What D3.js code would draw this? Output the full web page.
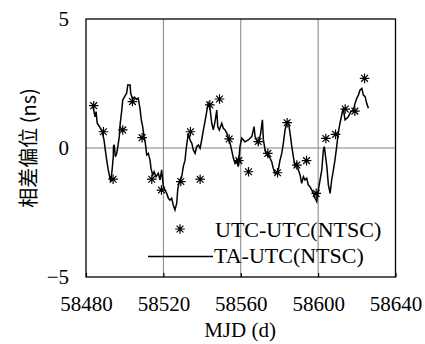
<!DOCTYPE html>
<html><head><meta charset="utf-8">
<script src="https://cdn.jsdelivr.net/npm/d3@7"></script>
<style>body{margin:0;background:#fff}svg{display:block}.sf{font-family:"Liberation Serif","DejaVu Serif",serif}</style>
</head><body>
<svg id="c" width="425" height="344"></svg>
<script>
// UTC-UTC(NTSC) (Circular T, 5-day)
const utcDays = [58484,58489,58494,58499,58504,58509,58514,58519,58529,58534,58539,58544,58549,58554,58559,58564,58569,58574,58579,58584,58589,58594,58599,58604,58609,58614,58619,58624];
const utcVals = [1.64,0.63,-1.21,0.70,1.80,0.40,-1.21,-1.63,-1.30,0.63,-1.21,1.67,1.90,0.35,-0.49,-0.92,0.25,-0.21,-0.96,0.98,-0.66,-0.49,-1.76,0.37,0.53,1.51,1.43,2.70];
// TA-UTC(NTSC)
const taDays = [58483.5,58484.7,58485.2,58485.8,58487.2,58488.4,58489.3,58490.0,58490.7,58491.5,58492.4,58492.8,58493.4,58493.8,58494.1,58494.2,58494.6,58495.2,58495.9,58496.7,58497.2,58497.7,58498.5,58499.0,58499.8,58501.0,58501.6,58502.8,58503.1,58504.1,58505.0,58506.2,58507.0,58507.9,58508.6,58509.3,58510.0,58510.7,58511.4,58512.2,58513.1,58513.6,58514.5,58515.2,58516.2,58517.4,58518.3,58519.1,58520.0,58520.8,58521.7,58522.6,58523.4,58524.3,58525.1,58526.0,58526.9,58527.4,58528.1,58529.5,58530.3,58531.2,58531.7,58532.4,58532.9,58533.8,58534.7,58535.5,58536.4,58537.2,58538.1,58539.0,58539.8,58540.7,58541.5,58542.4,58543.2,58544.1,58545.0,58545.8,58546.7,58547.6,58548.1,58548.9,58550.2,58551.0,58551.9,58552.8,58553.6,58554.5,58555.3,58556.2,58557.0,58557.9,58558.7,58559.6,58560.5,58562.2,58563.9,58565.7,58566.9,58567.4,58568.3,58569.1,58570.3,58571.2,58571.7,58572.6,58573.4,58574.8,58576.0,58576.8,58577.7,58578.6,58579.4,58580.3,58581.2,58582.0,58582.9,58583.8,58584.6,58585.5,58586.4,58587.2,58588.1,58588.9,58589.8,58590.7,58591.5,58592.4,58593.2,58594.1,58594.9,58595.8,58596.7,58597.5,58598.4,58599.3,58600.1,58601.0,58601.9,58602.7,58603.2,58604.5,58605.3,58606.2,58607.0,58607.9,58608.7,58609.6,58610.5,58611.3,58612.2,58613.0,58613.9,58614.8,58615.6,58616.9,58618.2,58619.1,58620.0,58620.8,58621.7,58622.6,58623.4,58624.3,58625.1,58626.0];
const taVals = [1.64,1.21,1.41,0.96,0.80,0.63,0.31,-0.08,-0.47,-0.85,-1.17,-1.31,-0.92,-0.59,-0.34,0.05,0.12,-0.34,-0.21,0.18,0.44,0.96,1.47,1.86,1.97,2.12,2.44,2.44,2.12,1.89,1.97,1.89,1.93,1.54,1.09,0.83,0.44,0.18,-0.27,-0.21,-0.47,-0.79,-1.05,-0.92,-1.11,-0.98,-1.24,-0.85,-1.50,-1.63,-1.76,-1.95,-2.02,-1.95,-2.21,-2.40,-2.14,-1.63,-1.31,-1.11,-0.72,-0.47,-0.08,0.31,0.57,0.31,0.18,-0.08,-0.21,0.05,0.12,-0.01,0.31,0.70,1.02,1.41,1.73,1.54,0.96,0.70,1.02,1.47,0.83,0.70,0.96,0.76,0.70,0.57,0.38,0.18,-0.08,-0.40,-0.59,-0.47,-0.72,0.05,0.38,0.24,0.31,0.44,0.83,0.44,0.31,0.18,0.57,1.09,0.31,-0.08,-0.27,-0.34,-0.53,-0.79,-0.98,-0.96,-0.85,-0.47,-0.21,0.18,0.70,0.96,1.02,0.57,0.05,-0.34,-0.72,-0.59,-0.85,-1.05,-1.37,-1.11,-1.24,-1.17,-1.43,-1.50,-1.63,-1.76,-1.95,-2.08,-1.63,-1.24,-0.85,-0.08,0.05,-0.72,-1.43,-1.76,-1.24,-0.85,-0.47,0.05,0.63,0.96,1.28,1.54,1.09,1.15,1.21,1.41,1.47,1.73,1.93,2.05,2.25,2.31,2.05,1.99,1.73,1.54];
const xTicks = [58480,58520,58560,58600,58640];
const yTicks = [-5,0,5];
const gridX = [58520,58560,58600];
const legendLabels = ["UTC-UTC(NTSC)","TA-UTC(NTSC)"];

const svg = d3.select("#c");
const L=86, R=395.5, T=19, B=277;
const x = d3.scaleLinear().domain([58480,58640]).range([L,R]);
const y = d3.scaleLinear().domain([-5,5]).range([B,T]);

// grid
svg.selectAll(".gx").data(gridX).join("line")
  .attr("x1",d=>x(d)).attr("x2",d=>x(d)).attr("y1",T).attr("y2",B)
  .attr("stroke","#808080").attr("stroke-width",1);
svg.append("line").attr("x1",L).attr("x2",R).attr("y1",y(0)).attr("y2",y(0))
  .attr("stroke","#808080").attr("stroke-width",1);

// TA line
const taData = taDays.map((d,i)=>[d,taVals[i]]);
svg.append("path").datum(taData)
  .attr("d", d3.line().x(d=>x(d[0])).y(d=>y(d[1])))
  .attr("fill","none").attr("stroke","#000").attr("stroke-width",1.5)
  .attr("stroke-linejoin","miter");

// asterisks
function star(g, cx, cy, r){
  const p = [];
  for (let k=0;k<4;k++){
    const a = k*Math.PI/4;
    p.push(`M${cx-r*Math.cos(a)},${cy-r*Math.sin(a)}L${cx+r*Math.cos(a)},${cy+r*Math.sin(a)}`);
  }
  g.append("path").attr("d",p.join("")).attr("stroke","#000").attr("stroke-width",1.2).attr("fill","none");
}
const sg = svg.append("g");
utcDays.forEach((d,i)=>star(sg, x(d), y(utcVals[i]), 4.8));

// frame
svg.append("rect").attr("x",L).attr("y",T).attr("width",R-L).attr("height",B-T)
  .attr("fill","none").attr("stroke","#000").attr("stroke-width",1.3);

// x axis
const xa = svg.append("g").attr("transform",`translate(0,${B})`)
  .call(d3.axisBottom(x).tickValues(xTicks).tickFormat(d3.format("d")).tickSizeInner(-4).tickSizeOuter(0).tickPadding(19));
xa.attr("font-family",null).attr("font-size",null);
xa.select(".domain").remove();
xa.selectAll("line").attr("stroke","#000").attr("stroke-width",1.2);
xa.selectAll("text").attr("class","sf").style("font-size","21px").attr("fill","#000");

// y axis
const ya = svg.append("g").attr("transform",`translate(${L},0)`)
  .call(d3.axisLeft(y).tickValues(yTicks).tickFormat(d=>d<0?"\u2212"+Math.abs(d):d).tickSizeInner(0).tickSizeOuter(0).tickPadding(17));
ya.attr("font-family",null).attr("font-size",null);
ya.select(".domain").remove();
ya.selectAll("line").remove();
ya.selectAll("text").attr("class","sf").style("font-size","21px").attr("fill","#000");

// axis titles
svg.append("text").attr("class","sf").attr("x",240).attr("y",337).attr("text-anchor","middle")
  .style("font-size","21px").text("MJD (d)");
svg.append("text").attr("transform","translate(36,148) rotate(-90)").attr("text-anchor","middle")
  .style("font-family","'Noto Sans CJK SC','Liberation Serif',serif").style("font-size","20px").attr("fill","#000")
  .text("相差偏位 (ns)");

// legend
star(svg, 180, 229, 4.8);
svg.append("text").attr("class","sf").attr("x",215).attr("y",237).style("font-size","22px").text(legendLabels[0]);
svg.append("line").attr("x1",148).attr("x2",213).attr("y1",256.5).attr("y2",256.5).attr("stroke","#000").attr("stroke-width",1.3);
svg.append("text").attr("class","sf").attr("x",214).attr("y",263).style("font-size","22px").text(legendLabels[1]);
</script>
</body></html>
